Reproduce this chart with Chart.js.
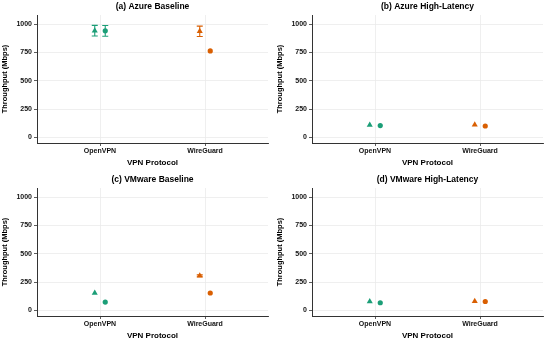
<!DOCTYPE html>
<html>
<head>
<meta charset="utf-8">
<script src="https://cdn.jsdelivr.net/npm/chart.js@4.4.0/dist/chart.umd.min.js"></script>
<style>
  html, body { margin: 0; padding: 0; background: #ffffff; }
  #grid { display: grid; grid-template-columns: 275px 275px; grid-template-rows: 172px 172px; width: 550px; height: 344px; }
  .cell { position: relative; width: 275px; height: 172px; }
</style>
</head>
<body>
<div id="grid">
  <div class="cell"><canvas id="c0" width="275" height="172"></canvas></div>
  <div class="cell"><canvas id="c1" width="275" height="172"></canvas></div>
  <div class="cell"><canvas id="c2" width="275" height="172"></canvas></div>
  <div class="cell"><canvas id="c3" width="275" height="172"></canvas></div>
</div>
<script>
// Data
const protocols = ['OpenVPN', 'WireGuard'];
const panelTitles = ['(a) Azure Baseline', '(b) Azure High-Latency', '(c) VMware Baseline', '(d) VMware High-Latency'];
const yTicks = [0, 250, 500, 750, 1000];

// triangle markers (left of each protocol) and circle markers (right)
const triangleValues = [[941, 936], [108, 111], [153, 305], [78, 81]];
const triangleErrors = [[47, 46], [0, 0], [0, 8], [0, 0]];
const circleValues = [[940, 763], [104, 100], [73, 153], [67, 78]];
const circleErrors = [[47, 0], [0, 0], [0, 0], [0, 0]];

const protocolColors = ['#1b9e77', '#d95f02'];
const dodge = 0.05;
const fontFamily = '"Liberation Sans", Arial, sans-serif';

// error bars + panel title, drawn through the chart scales
const errorBarPlugin = {
    id: 'errorBars',
    beforeDatasetsDraw(chart) {
        const ctx = chart.ctx;
        const xs = chart.scales.x;
        const ys = chart.scales.y;
        ctx.save();
        ctx.lineWidth = 1.1;
        chart.data.datasets.forEach(ds => {
            ds.data.forEach((pt, i) => {
                if (!pt.err) return;
                const x = xs.getPixelForValue(pt.x);
                const yTop = ys.getPixelForValue(pt.y + pt.err);
                const yBot = ys.getPixelForValue(pt.y - pt.err);
                ctx.strokeStyle = protocolColors[i];
                ctx.beginPath();
                ctx.moveTo(x, yTop); ctx.lineTo(x, yBot);
                ctx.moveTo(x - 3, yTop); ctx.lineTo(x + 3, yTop);
                ctx.moveTo(x - 3, yBot); ctx.lineTo(x + 3, yBot);
                ctx.stroke();
            });
        });
        ctx.restore();
    },
    afterDraw(chart, args, opts) {
        const ctx = chart.ctx;
        const area = chart.chartArea;
        ctx.save();
        ctx.fillStyle = '#000';
        ctx.font = 'bold 8.5px ' + fontFamily;
        ctx.textAlign = 'center';
        ctx.textBaseline = 'middle';
        ctx.fillText(opts.text, (area.left + area.right) / 2, area.top - 8);
        ctx.restore();
    }
};

function buildChart(idx) {
    const ctx = document.getElementById('c' + idx);
    const lowerRow = idx >= 2;
    const triData = protocols.map((p, i) => ({ x: i + 1 - dodge, y: triangleValues[idx][i], err: triangleErrors[idx][i] }));
    const dotData = protocols.map((p, i) => ({ x: i + 1 + dodge, y: circleValues[idx][i], err: circleErrors[idx][i] }));

    return new Chart(ctx, {
        type: 'scatter',
        data: {
            datasets: [
                {
                    label: 'Triangle',
                    data: triData,
                    pointStyle: 'triangle',
                    pointRadius: 3.5,
                    backgroundColor: protocolColors,
                    borderColor: protocolColors,
                    borderWidth: 0
                },
                {
                    label: 'Circle',
                    data: dotData,
                    pointStyle: 'circle',
                    pointRadius: 2.6,
                    backgroundColor: protocolColors,
                    borderColor: protocolColors,
                    borderWidth: 0
                }
            ]
        },
        options: {
            responsive: false,
            animation: false,
            layout: { padding: { top: lowerRow ? 16 : 15, right: 7, left: 0, bottom: lowerRow ? 3 : 4 } },
            plugins: {
                legend: { display: false },
                tooltip: { enabled: false },
                errorBars: { text: panelTitles[idx] }
            },
            scales: {
                x: {
                    type: 'linear',
                    min: 0.4,
                    max: 2.6,
                    afterBuildTicks: axis => { axis.ticks = [{ value: 1 }, { value: 2 }]; },
                    afterFit: axis => { axis.height = 25; },
                    ticks: {
                        callback: v => protocols[v - 1],
                        color: '#111',
                        font: { family: fontFamily, size: 7, weight: 'bold' },
                        padding: 1,
                        maxRotation: 0
                    },
                    grid: { color: '#ebebeb', lineWidth: 0.8, tickColor: '#333', tickLength: 3 },
                    border: { color: '#333', width: 1 },
                    title: {
                        display: true,
                        text: 'VPN Protocol',
                        color: '#000',
                        font: { family: fontFamily, size: 8, weight: 'bold' },
                        padding: { top: 1, bottom: 0 }
                    }
                },
                y: {
                    min: -50,
                    max: 1080,
                    afterBuildTicks: axis => { axis.ticks = yTicks.map(v => ({ value: v })); },
                    afterFit: axis => { axis.width = 37; },
                    ticks: {
                        callback: v => String(v),
                        color: '#111',
                        font: { family: fontFamily, size: 7, weight: 'bold' },
                        padding: 2
                    },
                    grid: { color: '#ebebeb', lineWidth: 0.8, tickColor: '#333', tickLength: 3 },
                    border: { color: '#333', width: 1 },
                    title: {
                        display: true,
                        text: 'Throughput (Mbps)',
                        color: '#000',
                        font: { family: fontFamily, size: 7.5, weight: 'bold' },
                        padding: { top: 0, bottom: 2 }
                    }
                }
            }
        },
        plugins: [errorBarPlugin]
    });
}

for (let i = 0; i < 4; i++) {
    buildChart(i);
}
</script>
</body>
</html>
